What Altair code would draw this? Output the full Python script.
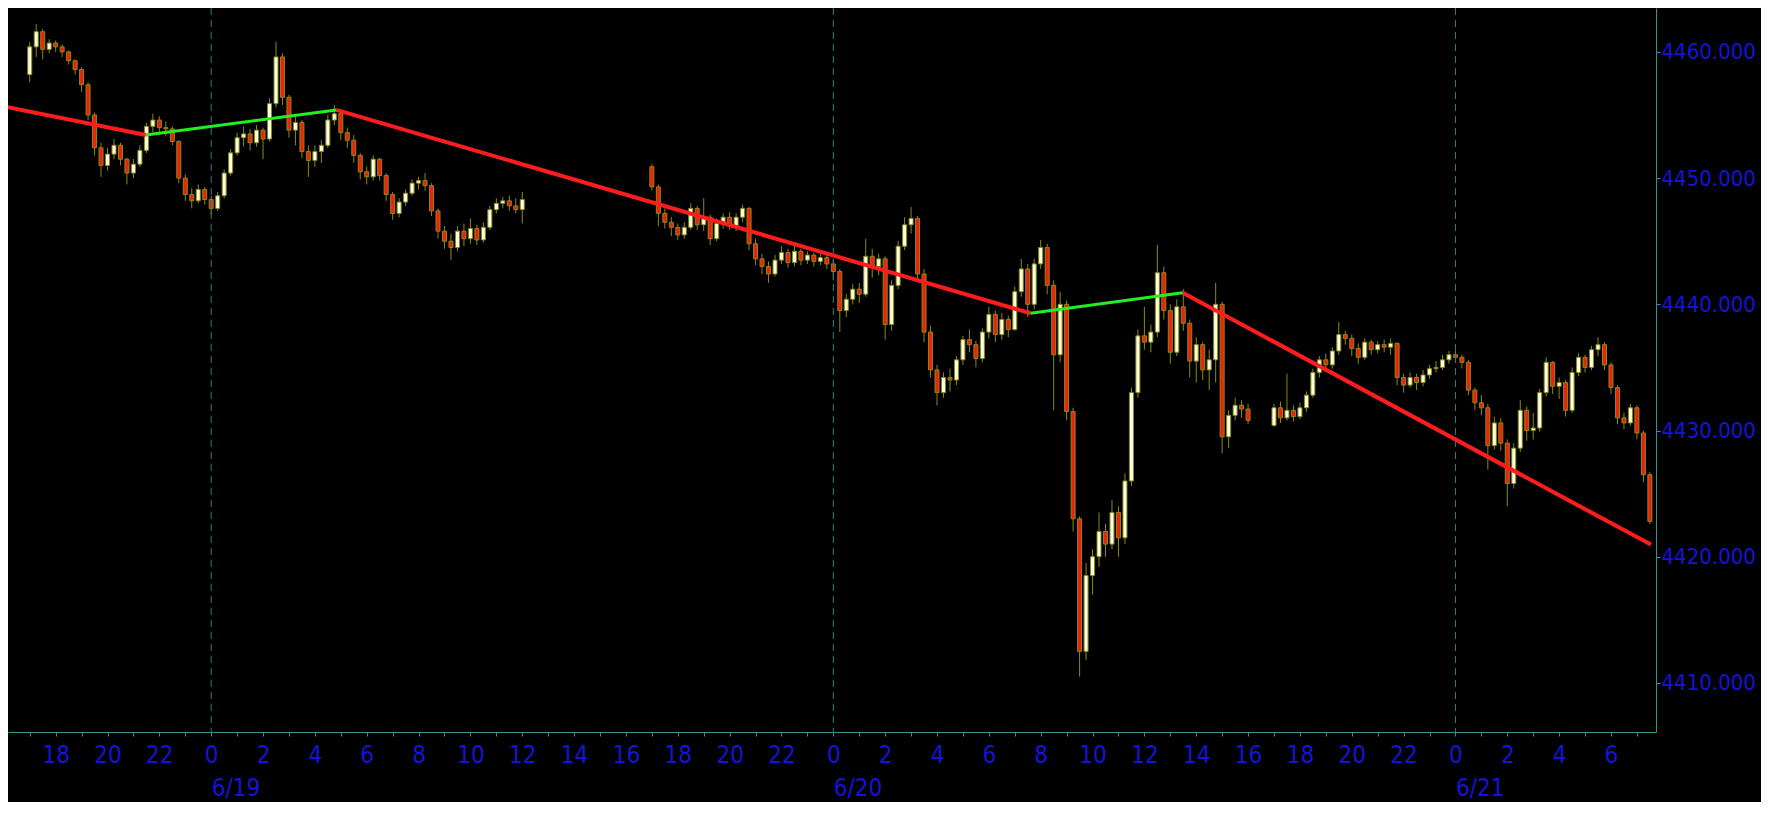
import altair as alt
import pandas as pd

# ---------------- data ----------------
# time axis: hours counted from 6/19 00:00; 15-minute candles
s1_start, s1_open0 = -7.0, 4458.2
s1_close = [4460.4, 4461.6, 4460.2, 4460.7, 4460.4, 4460.0, 4459.3, 4458.6,
            4457.4, 4455.0, 4452.4, 4451.0, 4451.9, 4452.6, 4451.5, 4450.4,
            4451.1, 4452.2, 4454.1, 4454.6, 4454.0, 4453.9, 4452.9, 4450.0,
            4448.7, 4448.2, 4449.1, 4448.3, 4447.6, 4448.6, 4450.4, 4452.0,
            4453.2, 4453.5, 4452.8, 4453.8, 4453.1, 4455.9, 4459.6, 4456.4,
            4453.8, 4454.4, 4452.1, 4451.4, 4452.1, 4452.6, 4454.6, 4455.1,
            4453.6, 4453.0, 4451.8, 4450.5, 4450.1, 4451.5, 4450.2, 4448.7,
            4447.2, 4448.1, 4448.8, 4449.6, 4449.8, 4449.4, 4447.4, 4445.8,
            4445.0, 4444.5, 4445.8, 4445.2, 4446.0, 4445.1, 4446.1, 4447.5,
            4448.0, 4448.2, 4447.8, 4447.5, 4448.3]
s1_high = [4460.8, 4462.2, 4461.8, 4461.0, 4460.9, 4460.6, 4460.1, 4459.4,
           4458.8, 4457.6, 4455.2, 4452.8, 4452.4, 4453.1, 4452.8, 4451.6,
           4451.5, 4452.6, 4454.4, 4455.1, 4454.9, 4454.5, 4454.1, 4453.0,
           4450.3, 4449.2, 4449.5, 4449.3, 4448.6, 4448.9, 4450.7, 4452.3,
           4453.6, 4454.1, 4453.9, 4454.2, 4454.0, 4456.3, 4460.8, 4459.9,
           4456.6, 4455.0, 4454.6, 4452.6, 4452.6, 4453.0, 4455.0, 4455.8,
           4455.3, 4454.0, 4453.4, 4452.0, 4450.9, 4451.8, 4451.6, 4450.4,
           4448.9, 4448.4, 4449.1, 4449.9, 4450.1, 4450.4, 4449.6, 4447.6,
           4446.2, 4445.6, 4446.2, 4446.4, 4446.8, 4446.3, 4446.5, 4447.8,
           4448.4, 4448.5, 4448.6, 4448.4, 4448.9]
s1_low = [4457.6, 4459.6, 4459.4, 4459.9, 4460.0, 4459.6, 4459.0, 4458.2,
          4456.8, 4454.6, 4451.8, 4450.1, 4450.6, 4451.5, 4451.0, 4449.5,
          4450.0, 4450.9, 4452.0, 4453.6, 4453.5, 4453.3, 4452.6, 4449.6,
          4448.2, 4447.6, 4448.0, 4447.9, 4447.1, 4447.4, 4448.4, 4450.2,
          4451.8, 4452.5, 4452.2, 4452.5, 4451.5, 4452.9, 4455.6, 4455.8,
          4453.2, 4452.6, 4451.6, 4450.1, 4450.9, 4451.2, 4452.4, 4454.2,
          4453.0, 4452.4, 4451.2, 4449.9, 4449.5, 4449.8, 4449.8, 4448.2,
          4446.7, 4446.9, 4447.8, 4448.6, 4449.1, 4449.0, 4447.0, 4445.2,
          4444.4, 4443.5, 4444.2, 4444.6, 4444.8, 4444.7, 4444.9, 4445.9,
          4447.2, 4447.6, 4447.4, 4447.2, 4446.4]

s2_start, s2_open0 = 17.0, 4450.9
s2_close = [4449.3, 4447.2, 4446.5, 4446.1, 4445.5, 4446.1, 4447.6, 4446.3,
            4446.9, 4445.2, 4446.4, 4446.9, 4446.2, 4446.9, 4447.6, 4444.8,
            4443.6, 4443.0, 4442.4, 4443.5, 4444.1, 4443.3, 4444.2, 4443.5,
            4443.9, 4443.4, 4443.7, 4443.2, 4442.6, 4439.5, 4440.4, 4441.2,
            4440.8, 4443.8, 4443.0, 4443.6, 4438.4, 4441.5, 4444.6, 4446.3,
            4446.8, 4442.4, 4437.8, 4434.8, 4433.0, 4434.2, 4434.0, 4435.6,
            4437.2, 4436.8, 4435.7, 4437.8, 4439.2, 4437.6, 4438.8, 4438.0,
            4441.0, 4442.8, 4440.0, 4443.2, 4444.5, 4441.5, 4436.0, 4440.0,
            4431.5, 4423.0, 4412.5, 4418.5, 4420.0, 4422.0, 4421.0, 4423.5,
            4421.5, 4426.0, 4433.0, 4437.5, 4437.0, 4437.8, 4442.5, 4439.5,
            4436.2, 4439.8, 4438.5, 4435.5, 4436.8, 4434.8, 4435.6, 4440.0,
            4429.5, 4431.2, 4432.0, 4431.7, 4430.8]
s2_high = [4451.1, 4449.5, 4447.6, 4446.9, 4446.4, 4446.5, 4448.0, 4447.8,
           4448.4, 4447.1, 4446.8, 4447.2, 4447.3, 4447.2, 4447.9, 4447.7,
           4445.2, 4444.0, 4443.4, 4443.9, 4444.6, 4444.4, 4444.6, 4444.4,
           4444.2, 4444.1, 4444.0, 4443.9, 4443.6, 4442.8, 4440.8, 4441.6,
           4441.7, 4445.2, 4444.4, 4444.0, 4443.8, 4441.9, 4445.0, 4446.9,
           4447.7, 4447.0, 4442.8, 4438.3, 4435.2, 4434.6, 4434.9, 4435.9,
           4437.5, 4438.0, 4437.1, 4438.1, 4439.8, 4439.5, 4439.3, 4439.1,
           4441.4, 4443.6, 4443.2, 4443.6, 4445.1, 4444.8, 4441.9, 4441.0,
           4440.3, 4431.8, 4423.2, 4419.5, 4420.6, 4423.5, 4422.6, 4424.5,
           4424.0, 4426.6, 4433.4, 4438.0, 4439.8, 4438.4, 4444.7, 4443.0,
           4440.0, 4440.4, 4441.2, 4438.8, 4437.4, 4437.0, 4436.4, 4441.7,
           4440.2, 4431.6, 4432.6, 4432.4, 4432.1]
s2_low = [4449.0, 4446.2, 4446.0, 4445.4, 4445.1, 4445.2, 4445.9, 4445.9,
          4445.8, 4444.7, 4445.0, 4446.0, 4445.9, 4445.8, 4446.5, 4444.3,
          4443.1, 4442.4, 4441.7, 4442.2, 4443.2, 4442.9, 4443.0, 4443.1,
          4443.2, 4443.0, 4443.1, 4442.8, 4441.9, 4437.8, 4439.0, 4440.0,
          4440.1, 4440.6, 4442.1, 4442.3, 4437.2, 4437.9, 4441.2, 4444.3,
          4445.6, 4441.8, 4437.0, 4434.2, 4432.0, 4432.6, 4433.1, 4433.6,
          4435.2, 4436.2, 4435.0, 4435.4, 4437.3, 4437.0, 4437.2, 4437.4,
          4437.9, 4440.6, 4439.0, 4439.6, 4442.8, 4440.8, 4431.6, 4435.4,
          4430.8, 4422.0, 4410.5, 4411.8, 4417.0, 4419.2, 4420.0, 4420.6,
          4420.0, 4421.0, 4425.6, 4432.6, 4436.4, 4436.2, 4437.4, 4438.8,
          4435.3, 4435.9, 4437.9, 4434.2, 4433.8, 4434.0, 4433.2, 4433.8,
          4428.2, 4428.6, 4430.8, 4431.0, 4430.5]

s3_start, s3_open0 = 41.0, 4430.4
s3_close = [4431.8, 4431.0, 4431.6, 4431.1, 4431.8, 4432.8, 4434.6, 4435.6,
            4435.2, 4436.3, 4437.6, 4437.3, 4436.5, 4435.8, 4437.0, 4436.4,
            4436.8, 4436.6, 4436.9, 4434.2, 4433.6, 4434.2, 4433.8, 4434.4,
            4434.9, 4435.0, 4435.6, 4436.0, 4435.8, 4435.4, 4433.2, 4432.2,
            4431.8, 4428.8, 4430.6, 4429.0, 4425.8, 4428.6, 4431.6, 4430.0,
            4430.2, 4433.0, 4435.4, 4433.5, 4433.8, 4431.6, 4434.6, 4435.8,
            4435.0, 4436.4, 4436.8, 4435.2, 4433.4, 4431.0, 4430.6, 4431.8,
            4429.8, 4426.5, 4422.8]
s3_high = [4432.1, 4432.3, 4434.5, 4432.0, 4432.2, 4433.1, 4434.9, 4435.9,
           4436.1, 4436.6, 4438.6, 4437.9, 4437.6, 4436.9, 4437.3, 4437.2,
           4437.1, 4437.2, 4437.3, 4437.0, 4434.5, 4434.6, 4434.5, 4434.8,
           4435.2, 4435.5, 4436.0, 4436.3, 4436.3, 4436.0, 4435.6, 4433.4,
           4432.8, 4432.1, 4431.1, 4431.0, 4429.3, 4429.0, 4432.4, 4431.9,
           4431.4, 4433.3, 4435.8, 4435.5, 4434.2, 4434.0, 4435.0, 4436.1,
           4436.0, 4436.7, 4437.4, 4437.0, 4435.4, 4433.6, 4431.4, 4432.1,
           4432.0, 4430.0, 4426.7]
s3_low = [4430.3, 4430.6, 4430.8, 4430.7, 4430.9, 4431.5, 4432.6, 4434.2,
          4434.8, 4434.9, 4436.0, 4436.8, 4435.9, 4435.3, 4435.6, 4436.0,
          4436.1, 4436.2, 4436.0, 4433.6, 4433.0, 4433.4, 4433.2, 4433.5,
          4434.1, 4434.6, 4434.8, 4435.3, 4435.4, 4434.9, 4432.8, 4431.6,
          4431.2, 4426.9, 4428.5, 4428.4, 4424.0, 4425.4, 4428.3, 4429.2,
          4429.3, 4429.9, 4432.7, 4432.9, 4432.5, 4431.1, 4431.4, 4434.3,
          4434.6, 4434.8, 4435.9, 4434.8, 4432.9, 4430.5, 4430.1, 4430.4,
          4429.3, 4425.9, 4422.6]

# zig-zag trend line vertices (hour, price)
trend_h = [-7.952, -2.52, 4.83, 31.61, 37.48, 55.54]
trend_p = [4455.66, 4453.42, 4455.40, 4439.29, 4440.92, 4420.96]
trend_kind = ["down", "up", "down", "up", "down"]

# day boundaries and labels
day_h = [0, 24, 48]
day_labels = ["6/19", "6/20", "6/21"]
price_ticks = [4410, 4420, 4430, 4440, 4450, 4460]

# ---------------- build tables ----------------
rows = []
for start, o0, cl, hi, lo in [(s1_start, s1_open0, s1_close, s1_high, s1_low),
                              (s2_start, s2_open0, s2_close, s2_high, s2_low),
                              (s3_start, s3_open0, s3_close, s3_high, s3_low)]:
    prev = o0
    for i, c in enumerate(cl):
        o = prev
        rows.append({"t": start + 0.25 * i, "o": o, "c": c,
                     "hi": max(hi[i], o, c), "lo": min(lo[i], o, c)})
        prev = c
candles = pd.DataFrame(rows)

segs = pd.DataFrame({"h1": trend_h[:-1], "p1": trend_p[:-1],
                     "h2": trend_h[1:], "p2": trend_p[1:], "kind": trend_kind})
days = pd.DataFrame({"t": day_h})

# ---------------- styling ----------------
FONT = "DejaVu Sans Condensed, Liberation Sans Narrow, DejaVu Sans, sans-serif"
BLUE = "#1414d8"
TEAL = "#3a9090"
DASH = "#2e7f7f"
OLIVE = "#8a8a12"
UP = "#ffffe6"
DOWN = "#f02010"
RED = "#ff1c1c"
GREEN = "#22ee22"

W, H = 1648, 724
xscale = alt.Scale(domain=[-7.646, 55.544], nice=False, zero=False)
yscale = alt.Scale(domain=[4406.11, 4463.478], nice=False, zero=False)

hour_axis = alt.Axis(
    orient="bottom", values=list(range(-7, 56)),
    labelExpr="(datum.value % 2 == 0) ? '' + ((datum.value % 24 + 24) % 24) : ''",
    tickSize=4, labelPadding=7, domainColor=TEAL, tickColor=TEAL,
    labelColor=BLUE, labelFont=FONT, labelFontSize=24, grid=False, title=None,
    labelFlush=False, labelOverlap=False)

date_expr = "[" + ",".join("'%s'" % d for d in day_labels) + "][round(datum.value / 24)]"
date_axis = alt.Axis(
    orient="bottom", values=day_h, labelExpr=date_expr, offset=38,
    domain=False, ticks=False, labelAlign="left", labelPadding=6,
    labelColor=BLUE, labelFont=FONT, labelFontSize=24, grid=False, title=None,
    labelFlush=False, labelOverlap=False)

price_axis = alt.Axis(
    orient="right", values=price_ticks, format=".3f", tickSize=4, labelPadding=1,
    domainColor=TEAL, tickColor=TEAL, labelColor=BLUE, labelFont=FONT,
    labelFontSize=22, grid=False, title=None, labelFlush=False, labelOverlap=False)

wick = alt.Chart(candles).mark_rule(color=OLIVE, strokeWidth=1, clip=True).encode(
    x=alt.X("t:Q", scale=xscale, axis=hour_axis),
    y=alt.Y("lo:Q", scale=yscale, axis=price_axis),
    y2="hi:Q")

body = alt.Chart(candles).mark_bar(size=4, stroke=OLIVE, strokeWidth=1, clip=True).encode(
    x=alt.X("t:Q", scale=xscale, axis=None),
    y=alt.Y("o:Q", scale=yscale, axis=price_axis),
    y2="c:Q",
    fill=alt.condition("datum.c >= datum.o", alt.value(UP), alt.value(DOWN)))

sep = alt.Chart(days).mark_rule(color=DASH, strokeDash=[7, 5], strokeWidth=1).encode(
    x=alt.X("t:Q", scale=xscale, axis=date_axis))

red = alt.Chart(segs).transform_filter("datum.kind == 'down'").mark_rule(
    color=RED, strokeWidth=4, clip=True).encode(
    x=alt.X("h1:Q", scale=xscale, axis=None), x2="h2:Q",
    y=alt.Y("p1:Q", scale=yscale, axis=price_axis), y2="p2:Q")

green = alt.Chart(segs).transform_filter("datum.kind == 'up'").mark_rule(
    color=GREEN, strokeWidth=3, clip=True).encode(
    x=alt.X("h1:Q", scale=xscale, axis=None), x2="h2:Q",
    y=alt.Y("p1:Q", scale=yscale, axis=price_axis), y2="p2:Q")

chart = alt.layer(wick, body, sep, red, green).resolve_axis(x="independent").properties(
    width=W, height=H,
    autosize=alt.AutoSizeParams(type="none"),
    padding={"left": 0, "top": 0, "right": 105, "bottom": 70},
).configure(background="#000000").configure_view(stroke=None)

chart.save("out.html", embed_options={"renderer": "svg", "actions": False})
